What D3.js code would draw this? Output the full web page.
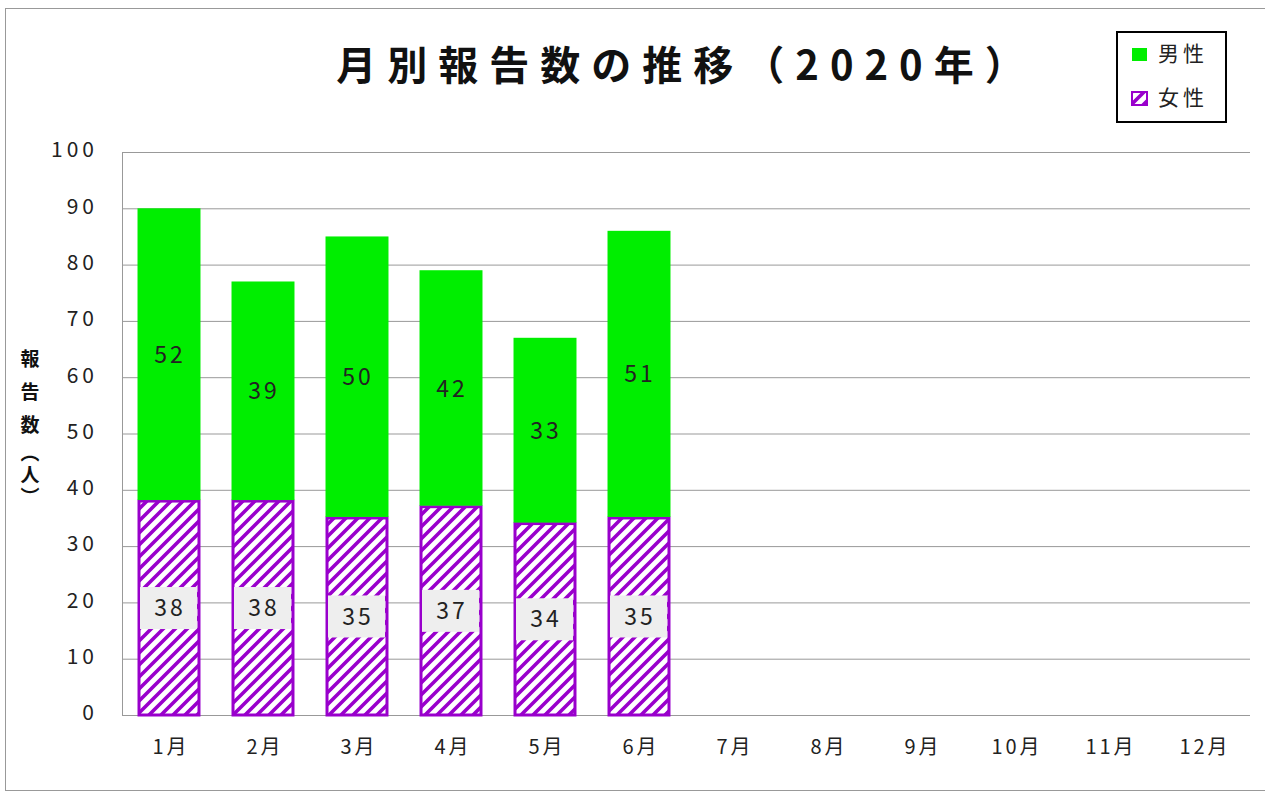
<!DOCTYPE html>
<html><head><meta charset="utf-8">
<script src="https://cdn.jsdelivr.net/npm/d3@7"></script>
<style>body{margin:0;background:#fff}svg{display:block}text{font-family:"Noto Sans CJK JP","Noto Sans",sans-serif}</style>
</head><body><svg id="c" width="1265" height="794"></svg>
<script>
const months = ["1月","2月","3月","4月","5月","6月","7月","8月","9月","10月","11月","12月"];
const female = [38,38,35,37,34,35];
const male = [52,39,50,42,33,51];
const yTicks = [0,10,20,30,40,50,60,70,80,90,100];
const title = "月別報告数の推移（2020年）";
const yLabelParts = ["報告数","（人）"];

const svg = d3.select("#c");
const defs = svg.append("defs");
const P = 12;
const pat = defs.append("pattern").attr("id","hatch").attr("patternUnits","userSpaceOnUse")
  .attr("width",P).attr("height",P);
pat.append("rect").attr("width",P).attr("height",P).attr("fill","#fff");
pat.append("path").attr("d",`M-3,${P+3} L${P+3},-3 M-3,3 L3,-3 M${P-3},${P+3} L${P+3},${P-3}`)
  .attr("stroke","#9900CC").attr("stroke-width",3.6);

svg.append("rect").attr("x",5.5).attr("y",8.5).attr("width",1270).attr("height",782)
  .attr("fill","#fff").attr("stroke","#999");

const L=122,R=1250,T=152,B=715;
const x = d3.scaleBand().domain(months).range([L,R]).paddingInner(0.33).paddingOuter(0.165);
const y = d3.scaleLinear().domain([0,100]).range([B,T]);

// grid
svg.append("g").selectAll("line").data(yTicks).join("line")
  .attr("x1",L).attr("x2",R).attr("y1",d=>y(d)+0.5).attr("y2",d=>y(d)+0.5)
  .attr("stroke","#999").attr("stroke-width",1);
svg.append("line").attr("x1",L+0.5).attr("x2",L+0.5).attr("y1",T).attr("y2",B).attr("stroke","#999");

// y tick labels
svg.append("g").selectAll("text").data(yTicks).join("text")
  .attr("x",98).attr("y",d=>y(d)-2).attr("dy","0.35em").attr("text-anchor","end")
  .attr("font-size",21).attr("fill","#222").attr("letter-spacing",4).text(d=>d);

// x labels
svg.append("g").selectAll("text").data(months).join("text")
  .attr("x",d=>x(d)+x.bandwidth()/2+2).attr("y",747).attr("dy","0.35em").attr("text-anchor","middle")
  .attr("font-size",20).attr("fill","#222").attr("letter-spacing",3).text(d=>d);

const data = female.map((f,i)=>({m:months[i],f,mv:male[i]}));
// female bars
svg.append("g").selectAll("rect").data(data).join("rect")
  .attr("x",d=>x(d.m)+1.5).attr("width",x.bandwidth()-3)
  .attr("y",d=>y(d.f)).attr("height",d=>y(0)-y(d.f))
  .attr("fill","url(#hatch)").attr("stroke","#9900CC").attr("stroke-width",3);
// male bars
svg.append("g").selectAll("rect").data(data).join("rect")
  .attr("x",d=>x(d.m)).attr("width",x.bandwidth())
  .attr("y",d=>y(d.f+d.mv)).attr("height",d=>y(d.f)-y(d.f+d.mv)-1)
  .attr("fill","#00EE00");

// female labels
const fl = svg.append("g").selectAll("g").data(data).join("g")
  .attr("transform",d=>`translate(${x(d.m)+x.bandwidth()/2},${y(d.f/2)})`);
fl.append("rect").attr("x",-29).attr("y",-21).attr("width",57).attr("height",42).attr("fill","#eeeeee");
fl.append("text").attr("x",1).attr("text-anchor","middle").attr("dy","0.35em").attr("font-size",23)
  .attr("fill","#222").attr("letter-spacing",3).text(d=>d.f);
// male labels
svg.append("g").selectAll("text").data(data).join("text")
  .attr("x",d=>x(d.m)+x.bandwidth()/2+1).attr("y",d=>y(d.f+d.mv/2)).attr("dy","0.35em")
  .attr("text-anchor","middle").attr("font-size",23).attr("fill","#222").attr("letter-spacing",3).text(d=>d.mv);

// title
svg.append("text").attr("x",686).attr("y",66).attr("dy","0.35em").attr("text-anchor","middle")
  .attr("font-size",40).attr("font-weight","bold").attr("fill","#111").attr("letter-spacing",11).text(title);

// y axis label (vertical)
svg.append("g").selectAll("text").data(yLabelParts).join("text")
  .attr("x",30).attr("y",(d,i)=>[349,443][i])
  .style("writing-mode","vertical-rl")
  .attr("font-size",19).attr("letter-spacing",(d,i)=>[14,3][i])
  .attr("font-weight","bold").attr("fill","#111").text(d=>d);

// legend
const lg = svg.append("g");
lg.append("rect").attr("x",1117).attr("y",32).attr("width",109).attr("height",90).attr("fill","#fff").attr("stroke","#000").attr("stroke-width",2);
const items=[{t:"男性",y:54,fill:"#00EE00",stroke:"none"},{t:"女性",y:98,fill:"url(#hatch)",stroke:"#9900CC"}];
items.forEach(it=>{
  lg.append("rect").attr("x",1132).attr("y",it.y-6).attr("width",15).attr("height",13)
    .attr("fill",it.fill).attr("stroke",it.stroke).attr("stroke-width",2);
  lg.append("text").attr("x",1158).attr("y",it.y).attr("dy","0.35em").attr("font-size",21)
    .attr("fill","#222").attr("letter-spacing",4).text(it.t);
});
</script></body></html>
